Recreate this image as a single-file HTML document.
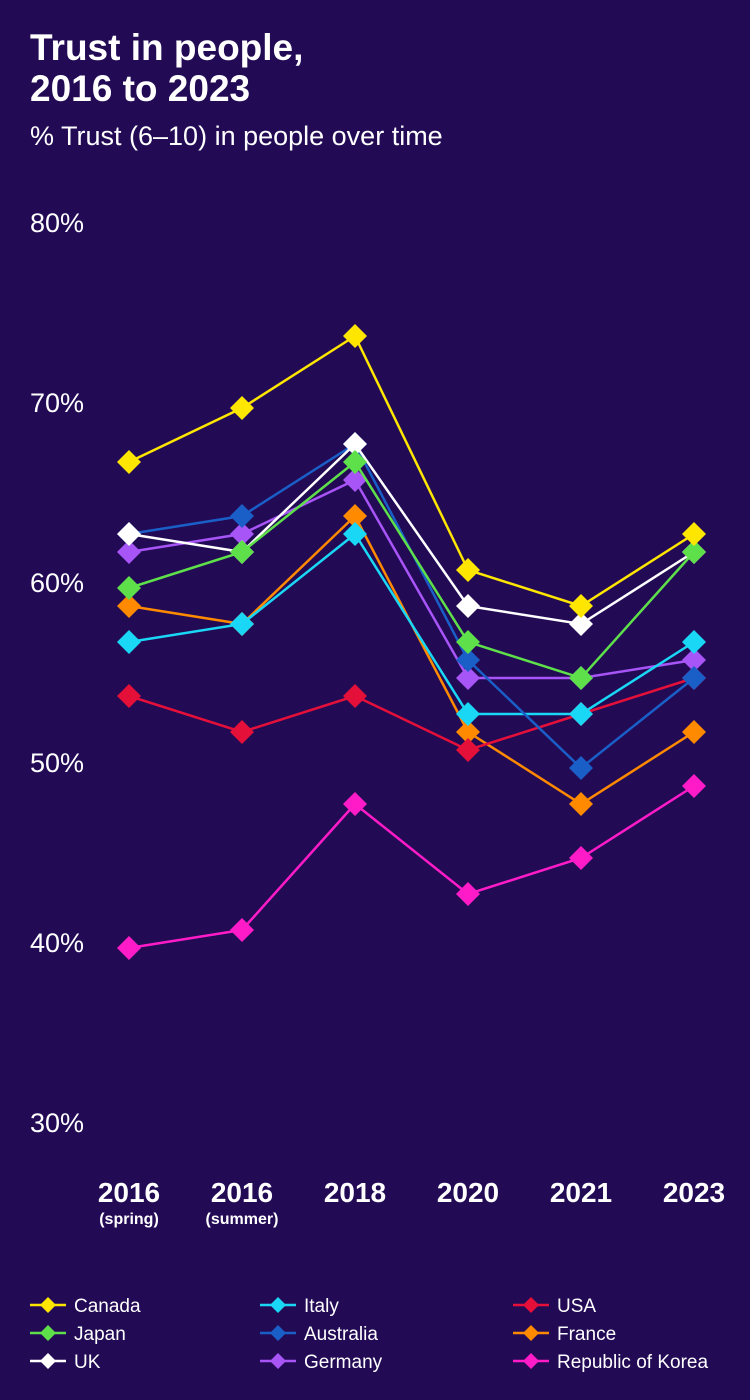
<!DOCTYPE html>
<html><head><meta charset="utf-8"><style>
body{margin:0;background:#220a55;}
svg{display:block;font-family:"Liberation Sans",sans-serif;}
</style></head><body>
<svg id="chart" width="750" height="1400" viewBox="0 0 750 1400">
<rect width="750" height="1400" fill="#220a55"/>
<text x="30" y="60" fill="#fff" font-size="37" font-weight="bold">Trust in people,</text>
<text x="30" y="101" fill="#fff" font-size="37" font-weight="bold">2016 to 2023</text>
<text x="30" y="145" fill="#fff" font-size="27">% Trust (6–10) in people over time</text>
<g id="yaxis"></g>
<g id="xaxis"></g>
<g id="series"></g>
<g id="legend"></g>
</svg>
<script>
const categories=["2016","2016","2018","2020","2021","2023"];
const subLabels=["(spring)","(summer)","","","",""];
const yTicks=[30,40,50,60,70,80];
const names=["Republic of Korea","France","USA","Germany","Italy","Australia","UK","Japan","Canada"];
const colors=["#ff1cc8","#ff8a00","#e5103a","#a855f7","#1ad8f5","#1a5fc7","#ffffff","#5ee04a","#ffe600"];
const korea=[40,41,48,43,45,49];
const france=[59,58,64,52,48,52];
const usa=[54,52,54,51,53,55];
const germany=[62,63,66,55,55,56];
const italy=[57,58,63,53,53,57];
const australia=[63,64,68,56,50,55];
const uk=[63,62,68,59,58,62];
const japan=[60,62,67,57,55,62];
const canada=[67,70,74,61,59,63];
const seriesValues=[korea,france,usa,germany,italy,australia,uk,japan,canada];
const legendOrder=["Canada","Italy","USA","Japan","Australia","France","UK","Germany","Republic of Korea"];

const NS="http://www.w3.org/2000/svg";
function y(v){return 228+(80-v)*18;}
function x(i){return 129+i*113;}
function mk(tag,attrs,parent,text){const e=document.createElementNS(NS,tag);for(const k in attrs)e.setAttribute(k,attrs[k]);if(text!==undefined)e.textContent=text;parent.appendChild(e);return e;}
function diamond(cx,cy,r){return `M${cx},${cy-r}L${cx+r},${cy}L${cx},${cy+r}L${cx-r},${cy}Z`;}

const ya=document.getElementById('yaxis');
yTicks.forEach(t=>{
  const e=mk('text',{x:30,y:y(t)+4,fill:'#fff','font-size':27},ya,t+'%');
  
  
});
const xa=document.getElementById('xaxis');
categories.forEach((c,i)=>{
  const e=mk('text',{x:x(i),y:1202,fill:'#fff','font-size':28,'font-weight':'bold','text-anchor':'middle'},xa,c);
  
  
  if(subLabels[i]){
    const s=mk('text',{x:x(i),y:1224,fill:'#fff','font-size':16,'font-weight':'bold','text-anchor':'middle'},xa,subLabels[i]);
    
    
  }
});
const sg=document.getElementById('series');
seriesValues.forEach((vals,si)=>{
  const g=mk('g',{},sg);
  
  
  const pts=vals.map((v,i)=>x(i)+','+y(v)).join(' ');
  const l=mk('polyline',{points:pts,fill:'none',stroke:colors[si],'stroke-width':2.5},g);
  
  
  vals.forEach((v,i)=>{
    const p=mk('path',{d:diamond(x(i),y(v),12),fill:colors[si]},g);
    
    
  });
});
const lg=document.getElementById('legend');
legendOrder.forEach((n,k)=>{
  const col=k%3,row=Math.floor(k/3);
  const lx=[30,260,513][col],ly=1305+row*28;
  const c=colors[names.indexOf(n)];
  const g=mk('g',{},lg);
  
  
  mk('line',{x1:lx,y1:ly,x2:lx+36,y2:ly,stroke:c,'stroke-width':2.5},g);
  mk('path',{d:diamond(lx+18,ly,8),fill:c},g);
  mk('text',{x:lx+44,y:ly+7,fill:'#fff','font-size':19},g,n);
});
</script>
</body></html>
